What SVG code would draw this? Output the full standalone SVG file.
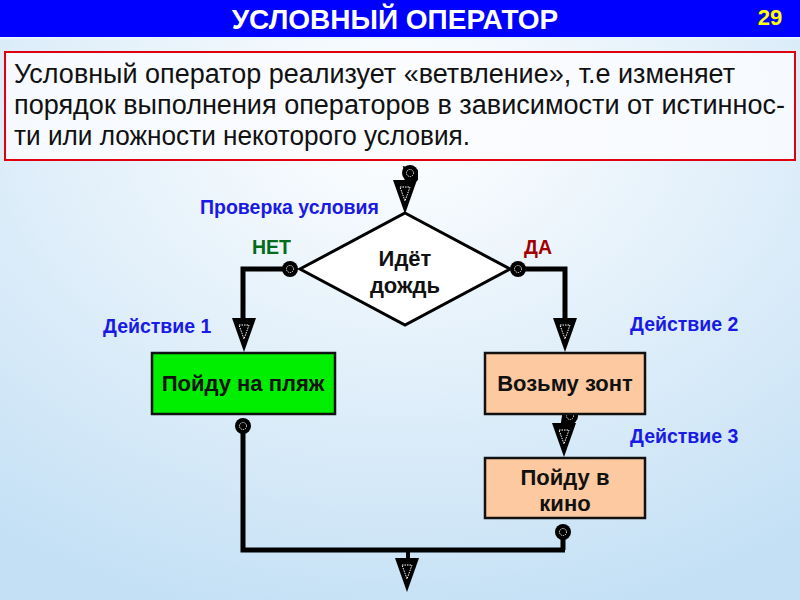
<svg xmlns="http://www.w3.org/2000/svg" width="800" height="600" viewBox="0 0 800 600">
  <defs>
    <radialGradient id="bg" cx="0.5" cy="0.2" r="0.85">
      <stop offset="0" stop-color="#ffffff"/>
      <stop offset="1" stop-color="#c4e0f5"/>
    </radialGradient>
    <g id="arrow">
      <polygon points="-12,0 12,0 0,34" fill="#000"/>
      <polygon points="-5,7 5,7 0,21" fill="none" stroke="#fff" stroke-width="1" stroke-dasharray="1.5 1"/>
    </g>
    <g id="dot">
      <circle r="8" fill="#000"/>
      <circle r="3.5" fill="none" stroke="#fff" stroke-width="1" stroke-dasharray="1.2 1"/>
    </g>
  </defs>
  <style>
    .lbl { font-family: "Liberation Sans", Arial, sans-serif; font-weight: bold; font-size: 19.5px; }
    .blue { fill: #1a1ae6; }
    .node { font-family: "Liberation Sans", Arial, sans-serif; font-weight: bold; font-size: 22px; fill: #111; text-anchor: middle; }
    .box { stroke: #111; stroke-width: 2.5; }
    .wire { fill: none; stroke: #000; stroke-width: 5; stroke-linejoin: miter; }
    .body { font-family: "Liberation Sans", Arial, sans-serif; font-size: 27px; fill: #111; }
  </style>

  <rect x="0" y="0" width="800" height="600" fill="url(#bg)"/>

  <g id="title">
    <rect x="0" y="0" width="800" height="37" fill="#0000ff"/>
    <line x1="0" y1="38" x2="800" y2="38" stroke="#e8f4ff" stroke-width="2"/>
    <text x="395" y="29" text-anchor="middle" font-family="'Liberation Sans', Arial, sans-serif" font-weight="bold" font-size="28" fill="#fff">УСЛОВНЫЙ ОПЕРАТОР</text>
    <text x="770" y="25" text-anchor="middle" font-family="'Liberation Sans', Arial, sans-serif" font-weight="bold" font-size="22" fill="#ffff00">29</text>
  </g>

  <g id="description">
    <rect x="5" y="52" width="790" height="108" fill="#fafcff" fill-opacity="0.85" stroke="#e00010" stroke-width="2"/>
    <text class="body" x="14" y="83" textLength="721" lengthAdjust="spacingAndGlyphs">Условный оператор реализует «ветвление», т.е изменяет</text>
    <text class="body" x="14" y="114" textLength="771" lengthAdjust="spacingAndGlyphs">порядок выполнения операторов в зависимости от истиннос-</text>
    <text class="body" x="14" y="145" textLength="456" lengthAdjust="spacingAndGlyphs">ти или ложности некоторого условия.</text>
  </g>

  <g id="connectors">
    <!-- top entry -->
    <polygon points="403,166 418,170 418,180 406,190" fill="#000"/>
    <use href="#dot" x="410" y="173"/>
    <use href="#arrow" x="405" y="180"/>
    <!-- no branch -->
    <polyline class="wire" points="290,269 243,269 243,322"/>
    <use href="#dot" x="290" y="269"/>
    <use href="#arrow" x="244" y="318"/>
    <!-- yes branch -->
    <polyline class="wire" points="518,269 565,269 565,322"/>
    <use href="#dot" x="518" y="269"/>
    <use href="#arrow" x="565" y="318"/>
    <!-- Возьму зонт -> Пойду в кино -->
    <polygon points="563,410 578,415 572,428 560,428" fill="#000"/>
    <use href="#dot" x="570" y="416"/>
    <use href="#arrow" x="564" y="423"/>
    <!-- merge -->
    <polyline class="wire" points="243,426 243,550 565,550"/>
    <polyline class="wire" points="563,532 563,550"/>
    <use href="#dot" x="243" y="426"/>
    <use href="#dot" x="563" y="532"/>
    <line x1="408" y1="550" x2="408" y2="560" stroke="#000" stroke-width="4"/>
    <use href="#arrow" x="407" y="558"/>
  </g>

  <g id="condition">
    <polygon points="405,213 510,269 405,325 300,269" fill="#fff" stroke="#000" stroke-width="3"/>
    <text class="node" x="405" y="266">Идёт</text>
    <text class="node" x="405" y="293">дождь</text>
  </g>

  <g id="beach">
    <rect class="box" x="152" y="353" width="183" height="61" fill="#00ee00"/>
    <text class="node" x="243" y="391">Пойду на пляж</text>
  </g>

  <g id="umbrella">
    <rect class="box" x="485" y="353" width="160" height="61" fill="#fdc9a0"/>
    <text class="node" x="565" y="391">Возьму зонт</text>
  </g>

  <g id="cinema">
    <rect class="box" x="485" y="458" width="160" height="60" fill="#fdc9a0"/>
    <text class="node" x="565" y="485">Пойду в</text>
    <text class="node" x="565" y="511">кино</text>
  </g>

  <g id="labels">
    <text class="lbl blue" x="200" y="214">Проверка условия</text>
    <text class="lbl" x="252" y="254" fill="#006b1a">НЕТ</text>
    <text class="lbl" x="524" y="254" fill="#a00000">ДА</text>
    <text class="lbl blue" x="103" y="333">Действие 1</text>
    <text class="lbl blue" x="630" y="331">Действие 2</text>
    <text class="lbl blue" x="630" y="443">Действие 3</text>
  </g>
</svg>
